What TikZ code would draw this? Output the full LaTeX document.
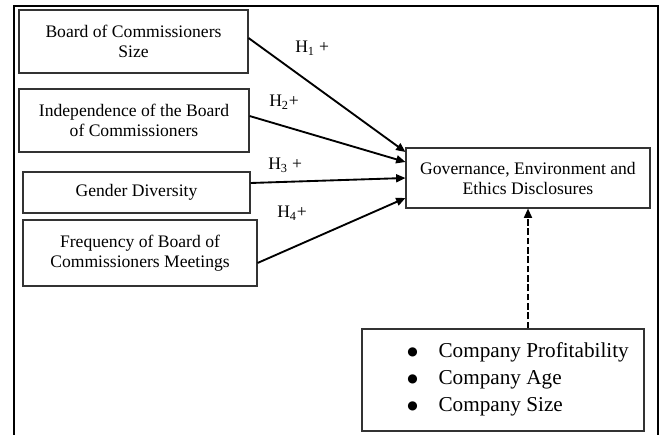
\documentclass[tikz,border=0pt]{standalone}
\usepackage{fontspec}
\setmainfont{Liberation Serif}
\newfontfamily\dotfont{DejaVu Sans}
\usetikzlibrary{arrows.meta,calc}

\newcommand{\listdot}{\makebox[23.5pt][l]{\raisebox{1.5pt}{\dotfont\fontsize{9}{9}\selectfont ●}}}

\begin{document}
\begin{tikzpicture}[x=0.75pt,y=-0.75pt,
  varbox/.style={draw=black!80, line width=0.8pt, align=center, inner sep=2pt,
    font=\fontsize{13.2}{15}\selectfont},
  hyp/.style={-{Triangle[length=7pt,width=6pt]}, line width=1.4pt},
  ctrlarrow/.style={-{Triangle[length=7pt,width=6pt]}, line width=1.3pt,
    dash pattern=on 5pt off 2pt},
  hlabel/.style={anchor=base west, inner sep=0pt, font=\fontsize{13.2}{15}\selectfont},
  frameline/.style={line width=1.8pt}]

  \useasboundingbox (0,0) rectangle (662,435);

  % open frame around the model
  \draw[frameline] (14,435) -- (14,6) -- (658,6) -- (658,435);

  % independent variables
  \node[varbox, minimum width=171.75pt, minimum height=47.25pt] (size) at (133.5,41.5)
    {Board of Commissioners\\Size};
  \node[varbox, minimum width=172.5pt, minimum height=47.25pt] (indep) at (134,120.5)
    {Independence of the Board\\of Commissioners};
  \node[varbox, minimum width=170.25pt, minimum height=30.75pt] (gender) at (136.5,192.5)
    {Gender Diversity};
  \node[varbox, minimum width=175.5pt, minimum height=49.5pt] (meet) at (140,253)
    {Frequency of Board of\\Commissioners Meetings};

  % dependent variable
  \node[varbox, minimum width=183pt, minimum height=45pt] (gee) at (528,178)
    {Governance, Environment and\\Ethics Disclosures};

  % control variables
  \node[draw=black!80, line width=0.8pt, minimum width=211.5pt, minimum height=76.5pt,
    inner sep=0pt] (ctrl) at (503,380) {};
  \node[anchor=north west, inner sep=0pt, align=left,
    font=\fontsize{15.9}{20.25}\selectfont] (ctrllist) at (407,342)
    {\listdot Company Profitability\\
     \listdot Company Age\\
     \listdot Company Size};

  % hypotheses
  \draw[hyp] ($(size.east)+(0,-3.5)$) -- ($(gee.west)+(0,-26)$);
  \draw[hyp] ($(indep.east)+(0,-4.5)$) -- ($(gee.west)+(0,-16)$);
  \draw[hyp] ($(gender.east)+(0,-9.5)$) -- (gee.west);
  \draw[hyp] ($(meet.east)+(0,10)$) -- ($(gee.west)+(0,20)$);

  \node[hlabel] (h1) at (295,53) {H\textsubscript{1} +};
  \node[hlabel] (h2) at (269,107) {H\textsubscript{2}+};
  \node[hlabel] (h3) at (268,170) {H\textsubscript{3} +};
  \node[hlabel] (h4) at (277,218) {H\textsubscript{4}+};

  % control effect
  \draw[ctrlarrow] (gee.south |- ctrl.north) -- (gee.south);
\end{tikzpicture}
\end{document}
